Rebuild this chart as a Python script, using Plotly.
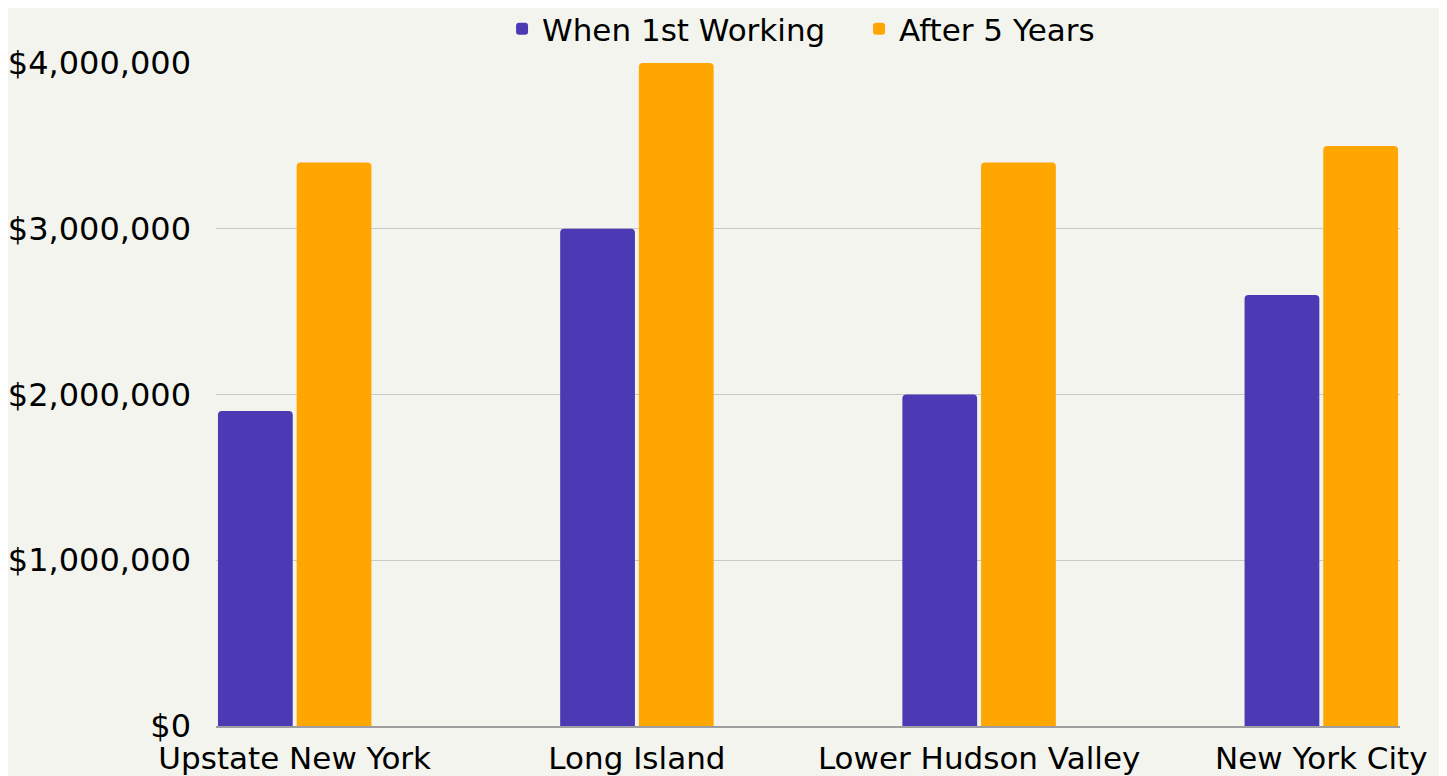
import plotly.graph_objects as go

categories = ["Upstate New York", "Long Island", "Lower Hudson Valley", "New York City"]
first_working = [1900000, 3000000, 2000000, 2600000]
after_five = [3400000, 4000000, 3400000, 3500000]
series_names = ["When 1st Working", "After 5 Years"]
y_ticks = [0, 1000000, 2000000, 3000000, 4000000]
y_tick_labels = ["$0", "$1,000,000", "$2,000,000", "$3,000,000", "$4,000,000"]

FONT = "DejaVu Sans"
FS = 32
BG = "#F3F4EE"

fig = go.Figure()
fig.add_trace(go.Bar(x=categories, y=first_working, name=series_names[0],
                     marker=dict(color="#4B3AB4", line=dict(width=0))))
fig.add_trace(go.Bar(x=categories, y=after_five, name=series_names[1],
                     marker=dict(color="#FFA600", line=dict(width=0))))

fig.update_layout(
    width=1439, height=768,
    paper_bgcolor=BG, plot_bgcolor=BG,
    margin=dict(l=208, r=47, t=55, b=50, autoexpand=False),
    barmode="group", bargap=0.54, bargroupgap=0.05,
    barcornerradius=4,
    font=dict(family=FONT, size=FS, color="#000000"),
    showlegend=True,
    legend=dict(orientation="h", xref="paper", yref="paper",
                x=0.2416, xanchor="left", y=1.092, yanchor="top",
                font=dict(family=FONT, size=31, color="#000000"),
                bgcolor="rgba(0,0,0,0)", entrywidth=312, entrywidthmode="pixels",
                traceorder="normal"),
)
fig.update_xaxes(
    range=[-0.23, 3.23], showgrid=False, showline=True, linecolor="#9E9E9E", linewidth=1.5,
    ticks="", tickfont=dict(family=FONT, size=31, color="#000000"), ticklabelstandoff=4,
    automargin=False,
)
fig.update_yaxes(
    range=[0, 4000000], tickvals=y_ticks, ticktext=y_tick_labels,
    showgrid=True, gridcolor="#C8C8C6", gridwidth=1, zeroline=False, showline=False,
    ticks="", tickfont=dict(family=FONT, size=FS, color="#000000"), ticklabelstandoff=24,
    automargin=False,
)

fig.write_html("out.html")
